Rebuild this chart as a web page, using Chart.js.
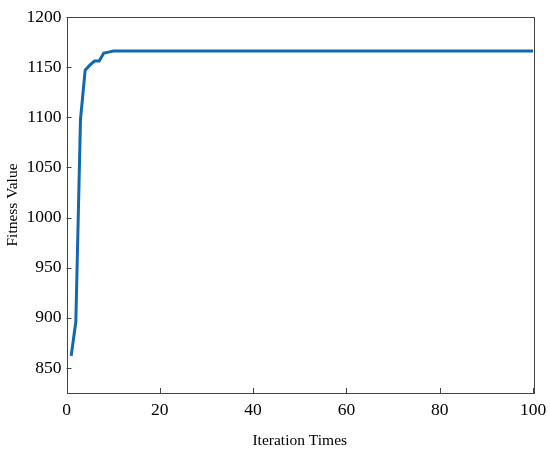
<!DOCTYPE html>
<html>
<head>
<meta charset="utf-8">
<script src="https://cdn.jsdelivr.net/npm/chart.js@4"></script>
<style>
  html, body { margin: 0; padding: 0; background: #fff; }
  #wrap { width: 550px; height: 454px; }
</style>
</head>
<body>
<div id="wrap"><canvas id="fitness" width="550" height="454"></canvas></div>
<script>
// values
const fitness = [
    862, 896, 1098, 1147, 1152, 1156, 1156, 1164, 1165, 1166,
    1166, 1166, 1166, 1166, 1166, 1166, 1166, 1166, 1166, 1166,
    1166, 1166, 1166, 1166, 1166, 1166, 1166, 1166, 1166, 1166,
    1166, 1166, 1166, 1166, 1166, 1166, 1166, 1166, 1166, 1166,
    1166, 1166, 1166, 1166, 1166, 1166, 1166, 1166, 1166, 1166,
    1166, 1166, 1166, 1166, 1166, 1166, 1166, 1166, 1166, 1166,
    1166, 1166, 1166, 1166, 1166, 1166, 1166, 1166, 1166, 1166,
    1166, 1166, 1166, 1166, 1166, 1166, 1166, 1166, 1166, 1166,
    1166, 1166, 1166, 1166, 1166, 1166, 1166, 1166, 1166, 1166,
    1166, 1166, 1166, 1166, 1166, 1166, 1166, 1166, 1166, 1166
];
const iterations = fitness.map((v, i) => i + 1);
const xTicks = [0, 20, 40, 60, 80, 100];
const yTicks = [850, 900, 950, 1000, 1050, 1100, 1150, 1200];

const serif = "'Times New Roman', 'Liberation Serif', serif";
const axisColor = '#444';

// inward ticks + box frame
const frameTicks = {
    id: 'frameTicks',
    afterDraw(chart) {
        const ctx = chart.ctx;
        const a = chart.chartArea;
        const xs = chart.scales.x, ys = chart.scales.y;
        ctx.save();
        ctx.strokeStyle = axisColor;
        ctx.lineWidth = 1;
        ctx.beginPath();
        xTicks.forEach(t => {
            const px = Math.round(xs.getPixelForValue(t)) + 0.5;
            ctx.moveTo(px, a.bottom);
            ctx.lineTo(px, a.bottom - 5);
        });
        yTicks.forEach(t => {
            const py = Math.round(ys.getPixelForValue(t)) + 0.5;
            ctx.moveTo(a.left, py);
            ctx.lineTo(a.left + 5, py);
        });
        ctx.stroke();
        ctx.strokeRect(Math.round(a.left) + 0.5, Math.round(a.top) + 0.5,
            Math.round(a.right - a.left), Math.round(a.bottom - a.top));
        ctx.restore();
    }
};

const ctx = document.getElementById('fitness').getContext('2d');
const chart = new Chart(ctx, {
    type: 'line',
    data: {
        labels: iterations,
        datasets: [{
            label: 'Fitness',
            data: fitness,
            borderColor: '#1268ae',
            borderWidth: 3,
            pointRadius: 0,
            fill: false,
            tension: 0
        }]
    },
    options: {
        responsive: false,
        animation: false,
        layout: { padding: { top: 17, right: 17, left: 0, bottom: 0 } },
        plugins: { legend: { display: false }, tooltip: { enabled: false } },
        scales: {
            x: {
                type: 'linear',
                min: 0,
                max: 100,
                afterBuildTicks: s => { s.ticks = xTicks.map(v => ({ value: v })); },
                afterFit: s => { s.height = 61; s.paddingLeft = 0; s.paddingRight = 0; },
                grid: { display: false, drawTicks: false },
                border: { display: false },
                ticks: { color: '#000', padding: 7, maxRotation: 0, callback: v => String(v), font: { family: serif, size: 17.5 } },
                title: { display: true, text: 'Iteration Times', color: '#000', padding: { top: 0, bottom: 4 }, font: { family: serif, size: 15.5 } }
            },
            y: {
                min: 825,
                max: 1200,
                afterBuildTicks: s => { s.ticks = yTicks.map(v => ({ value: v })); },
                afterFit: s => { s.width = 66.5; s.paddingTop = 0; s.paddingBottom = 0; },
                grid: { display: false, drawTicks: false },
                border: { display: false },
                ticks: { color: '#000', padding: 5, callback: v => String(v), font: { family: serif, size: 17.5 } },
                title: { display: true, text: 'Fitness Value', color: '#000', padding: { top: 4, bottom: 0 }, font: { family: serif, size: 15.5 } }
            }
        }
    },
    plugins: [frameTicks]
});
</script>
</body>
</html>
